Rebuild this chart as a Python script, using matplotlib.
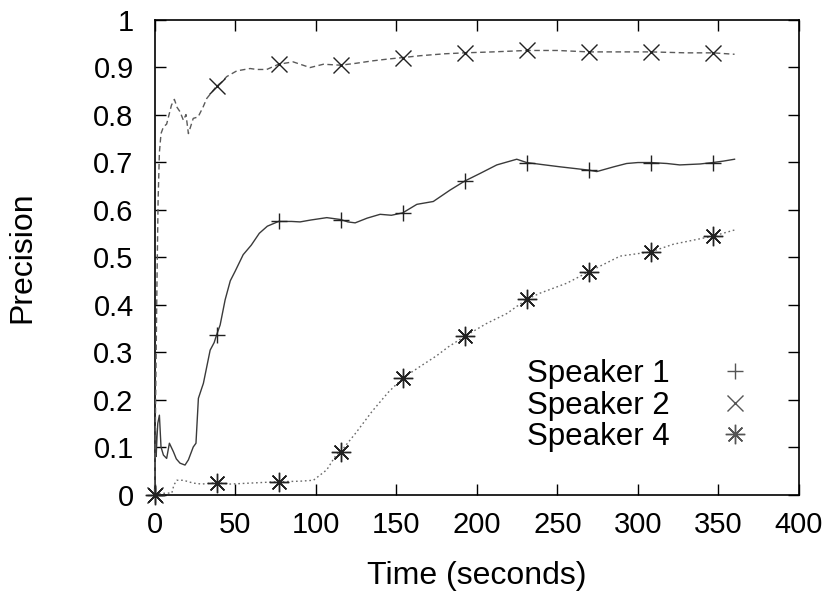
import matplotlib
matplotlib.use("Agg")
import matplotlib.pyplot as plt
from matplotlib.lines import Line2D

plt.rcParams['font.family'] = ['Liberation Sans', 'DejaVu Sans']

# (time in seconds, precision)
speaker1 = [(0, 0), (0.5, 0.14), (1, 0.08), (1.5, 0.12), (2, 0.15), (3, 0.167), (4, 0.1),
            (5.5, 0.083), (7.5, 0.076), (9.2, 0.108), (11.7, 0.09), (13.5, 0.075), (15.8, 0.066),
            (18.9, 0.062), (21, 0.073), (24, 0.1), (25.7, 0.108), (27.2, 0.2025), (29.3, 0.224),
            (30.3, 0.234), (31.8, 0.259), (34.5, 0.304), (37, 0.32), (38.5, 0.336), (40.7, 0.357),
            (43.8, 0.41), (47, 0.45), (50, 0.47), (55, 0.505), (60, 0.525), (65, 0.55), (70, 0.565),
            (77, 0.575), (85, 0.575), (90.3, 0.574), (97, 0.578), (106.9, 0.583), (115.5, 0.579),
            (120, 0.574), (124.5, 0.572), (132, 0.582), (140, 0.59), (147, 0.588), (154, 0.593),
            (162.8, 0.611), (173, 0.617), (183.4, 0.641), (192.5, 0.66), (202, 0.676),
            (212.4, 0.694), (224.8, 0.706), (231, 0.699), (240, 0.695), (251.7, 0.69), (262, 0.686),
            (269.5, 0.683), (274.5, 0.68), (285, 0.69), (293, 0.697), (300, 0.699), (308, 0.699),
            (318, 0.697), (326, 0.694), (338.6, 0.696), (346.5, 0.699), (353, 0.702), (360, 0.706)]

speaker2 = [(0, 0), (0.5, 0.15), (1, 0.3), (1.5, 0.45), (2.2, 0.62), (3, 0.72), (4, 0.76),
            (5.5, 0.774), (7.5, 0.78), (9, 0.8), (10.5, 0.82), (12.3, 0.832), (14, 0.815),
            (15.8, 0.806), (17.9, 0.788), (19.5, 0.8), (21, 0.76), (24, 0.792), (27, 0.795),
            (30, 0.815), (32.4, 0.834), (35, 0.845), (38.5, 0.86), (41.5, 0.868), (44.8, 0.88),
            (51, 0.892), (59.3, 0.897), (63.4, 0.895), (69.6, 0.895), (77, 0.906), (86, 0.911),
            (96.5, 0.899), (104.8, 0.906), (115.5, 0.904), (125, 0.908), (135, 0.913),
            (145, 0.917), (154, 0.92), (165, 0.924), (180, 0.928), (192.5, 0.93), (210, 0.932),
            (231, 0.935), (250, 0.935), (269.5, 0.932), (290, 0.932), (308, 0.932), (330, 0.93),
            (346.5, 0.93), (360, 0.927)]

speaker4 = [(0, 0), (3, 0.002), (8, 0.003), (10.7, 0.003), (12, 0.02), (13.8, 0.03),
            (17.9, 0.03), (24, 0.024), (29.3, 0.022), (38.5, 0.025), (46.9, 0.022), (59.3, 0.024),
            (77, 0.027), (90.3, 0.028), (98.6, 0.03), (106.9, 0.052), (113, 0.085), (115.5, 0.09),
            (125, 0.13), (135, 0.175), (145, 0.215), (154, 0.245), (165, 0.27), (175, 0.292),
            (182.4, 0.311), (192.5, 0.333), (206, 0.36), (218.6, 0.381), (231, 0.411),
            (239.3, 0.424), (255.9, 0.445), (269.5, 0.469), (289, 0.502), (308, 0.511),
            (322, 0.527), (346.5, 0.544), (360, 0.557)]

# gnuplot puts a point symbol every ~38.5 s
mark_times = [0, 38.5, 77, 115.5, 154, 192.5, 231, 269.5, 308, 346.5]

labels = ["Speaker 1", "Speaker 2", "Speaker 4"]
x_ticks = [0, 50, 100, 150, 200, 250, 300, 350, 400]
y_ticks = [0, 0.1, 0.2, 0.3, 0.4, 0.5, 0.6, 0.7, 0.8, 0.9, 1]
y_tick_labels = ["0", "0.1", "0.2", "0.3", "0.4", "0.5", "0.6", "0.7", "0.8", "0.9", "1"]

asterisk = (8, 2, 0)  # + and x on top of each other, like gnuplot's point type 3
styles = [
    dict(ls="-", color="#3a3a3a", marker="+", ms=11),
    dict(ls=(0, (4, 2.5)), color="#5a5a5a", marker="x", ms=11),
    dict(ls=(0, (1.2, 2)), color="#6a6a6a", marker=asterisk, ms=14),
]

fig = plt.figure(figsize=(8.31, 5.94), dpi=100)
ax = fig.add_axes([0.186, 0.1675, 0.7755, 0.7995])

handles = []
for data, lab, st in zip([speaker1, speaker2, speaker4], labels, styles):
    t = [d[0] for d in data]
    p = [d[1] for d in data]
    every = [t.index(m) for m in mark_times]
    ax.plot(t, p, ls=st["ls"], color=st["color"], lw=1.0,
            marker=st["marker"], markevery=every, markersize=st["ms"],
            markeredgewidth=1.0, markeredgecolor="#222222", clip_on=False, zorder=3)
    handles.append(Line2D([], [], ls="none", marker=st["marker"], markersize=st["ms"],
                          markeredgewidth=1.0, markeredgecolor="#555555", label=lab))

ax.set_xlim(0, 400)
ax.set_ylim(0, 1)
ax.set_xticks(x_ticks)
ax.set_yticks(y_ticks)
ax.set_yticklabels(y_tick_labels)
ax.tick_params(direction="in", length=8, width=1, top=True, right=True,
               labelsize=21, colors="black")
ax.tick_params(axis="y", pad=15)
ax.tick_params(axis="x", pad=12)
for s in ax.spines.values():
    s.set_linewidth(1.2)

ax.set_xlabel("Time (seconds)", fontsize=23, labelpad=16)
ax.set_ylabel("Precision", fontsize=23)
ax.yaxis.set_label_coords(-0.182, 0.5)

ax.legend(handles=handles, loc="lower left", bbox_to_anchor=(0.578, 0.089),
          markerfirst=False, frameon=False, fontsize=22.5, handlelength=2.0,
          handletextpad=1.1, labelspacing=0.05, borderpad=0, borderaxespad=0)

fig.savefig("out.png", dpi=100)
